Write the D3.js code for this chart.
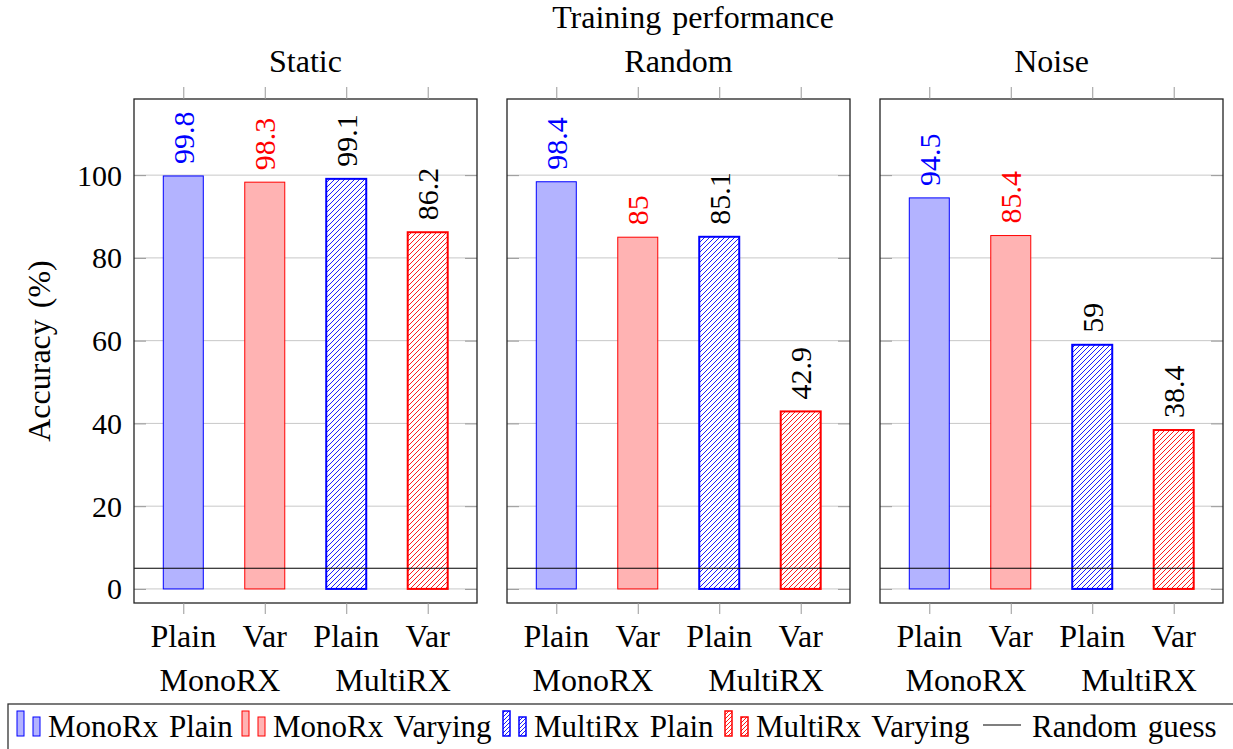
<!DOCTYPE html>
<html><head><meta charset="utf-8">
<script src="https://cdn.jsdelivr.net/npm/d3@7"></script>
<style>
body{margin:0;background:#fff;}
text{font-family:"Liberation Serif","Times New Roman",serif;}
</style></head>
<body><svg id="c" width="1233" height="749"></svg>
<script>
// ---- data ----
const panels = ["Static", "Random", "Noise"];
const categories = ["Plain", "Var", "Plain", "Var"];
const groups = ["MonoRX", "MultiRX"];
const series = ["MonoRx Plain", "MonoRx Varying", "MultiRx Plain", "MultiRx Varying"];
const staticValues = [99.8, 98.3, 99.1, 86.2];
const randomValues = [98.4, 85, 85.1, 42.9];
const noiseValues = [94.5, 85.4, 59, 38.4];
const randomGuess = 5;
const yTicks = [0, 20, 40, 60, 80, 100];
const title = "Training performance";
const yLabel = "Accuracy (%)";
const legendLineLabel = "Random guess";

const panelValues = [staticValues, randomValues, noiseValues];

// ---- styles / layout ----
const BLUE = "#0000ff", RED = "#ff0000";
const styles = [
  {fill: "#b3b3ff", stroke: BLUE, hatch: false, label: BLUE, sw: 1},
  {fill: "#ffb3b3", stroke: RED, hatch: false, label: RED, sw: 1},
  {fill: "url(#hatchBlue)", stroke: BLUE, hatch: true, label: "#000", sw: 2},
  {fill: "url(#hatchRed)", stroke: RED, hatch: true, label: "#000", sw: 2}
];
const FS = 30;   // numbers
const FW = 32;   // words
const FL = 31;   // legend words
const WS = 3;    // extra word spacing
const legendIconX = [17, 242, 503, 725];
const legendLineX = 983;

const svg = d3.select("#c");
const defs = svg.append("defs");
function hatch(id, color, size) {
  const p = defs.append("pattern").attr("id", id).attr("patternUnits", "userSpaceOnUse")
    .attr("width", size).attr("height", size);
  p.append("rect").attr("width", size).attr("height", size).attr("fill", "#fff");
  p.append("path").attr("d", `M0,${size} L${size},0 M${-size/2},${size/2} L${size/2},${-size/2} M${size/2},${size*1.5} L${size*1.5},${size/2}`)
    .attr("stroke", color).attr("stroke-width", 0.9);
}
hatch("hatchBlue", BLUE, 5);
hatch("hatchRed", RED, 5);
hatch("hatchBlueS", BLUE, 4);
hatch("hatchRedS", RED, 4);

const plotTop = 99, plotBottom = 603, pw = 343, gap = 30, left0 = 134;
const y = d3.scaleLinear().domain([-3.4, 118.4]).range([plotBottom, plotTop]);

panels.forEach((name, pi) => {
  const x0 = left0 + pi * (pw + gap);
  const g = svg.append("g").attr("transform", `translate(${x0},0)`);
  const x = d3.scalePoint().domain(d3.range(categories.length)).range([0, pw]).padding(0.605);
  const vals = panelValues[pi];

  // grid
  g.selectAll(".grid").data(yTicks).join("line")
    .attr("x1", 0).attr("x2", pw).attr("y1", d => y(d)).attr("y2", d => y(d))
    .attr("stroke", "#c8c8c8").attr("stroke-width", 1);
  // y ticks inside left and right
  const yAxL = d3.axisRight(y).tickValues(yTicks).tickSize(12).tickFormat("");
  const yAxR = d3.axisLeft(y).tickValues(yTicks).tickSize(12).tickFormat("");
  const gl = g.append("g").call(yAxL); gl.select(".domain").remove();
  gl.selectAll("line").attr("stroke", "#999");
  const gr = g.append("g").attr("transform", `translate(${pw},0)`).call(yAxR); gr.select(".domain").remove();
  gr.selectAll("line").attr("stroke", "#999");

  // bars
  const bw = 40;
  g.selectAll(".bar").data(vals).join("rect")
    .attr("x", (d, i) => x(i) - bw / 2).attr("width", bw)
    .attr("y", d => y(d)).attr("height", d => y(0) - y(d))
    .attr("fill", (d, i) => styles[i].fill).attr("stroke", (d, i) => styles[i].stroke)
    .attr("stroke-width", (d, i) => styles[i].sw);

  // value labels
  g.selectAll(".vl").data(vals).join("text")
    .attr("transform", (d, i) => `translate(${x(i)},${y(d) - 12}) rotate(-90)`)
    .attr("dominant-baseline", "central").attr("text-anchor", "start")
    .attr("font-size", FS).attr("fill", (d, i) => styles[i].label)
    .text(d => d);

  // random guess
  g.append("line").attr("x1", 0).attr("x2", pw).attr("y1", y(randomGuess)).attr("y2", y(randomGuess))
    .attr("stroke", "#000").attr("stroke-width", 1.2);

  // frame
  g.append("rect").attr("x", 0).attr("y", plotTop).attr("width", pw).attr("height", plotBottom - plotTop)
    .attr("fill", "none").attr("stroke", "#222").attr("stroke-width", 1.3);

  // x ticks outside top and bottom
  const xb = d3.axisBottom(x).tickSize(11).tickFormat("");
  const gxb = g.append("g").attr("transform", `translate(0,${plotBottom})`).call(xb);
  gxb.select(".domain").remove(); gxb.selectAll("line").attr("stroke", "#999");
  const xt = d3.axisTop(x).tickSize(12).tickFormat("");
  const gxt = g.append("g").attr("transform", `translate(0,${plotTop})`).call(xt);
  gxt.select(".domain").remove(); gxt.selectAll("line").attr("stroke", "#999");

  // category labels
  g.selectAll(".cl").data(categories).join("text")
    .attr("x", (d, i) => x(i)).attr("y", 647).attr("text-anchor", "middle")
    .attr("font-size", FW).text(d => d);
  g.selectAll(".gl").data(groups).join("text")
    .attr("x", (d, i) => (x(2 * i) + x(2 * i + 1)) / 2 + (i === 0 ? -4 : 6)).attr("y", 691)
    .attr("text-anchor", "middle").attr("font-size", FW).text(d => d);

  // panel title
  g.append("text").attr("x", pw / 2).attr("y", 72).attr("text-anchor", "middle")
    .attr("font-size", FW).text(name);

  if (pi === 0) {
    g.selectAll(".yl").data(yTicks).join("text")
      .attr("x", -12).attr("y", d => y(d)).attr("text-anchor", "end")
      .attr("dominant-baseline", "central").attr("font-size", FS).text(d => d);
  }
});

svg.append("text").attr("x", 693).attr("y", 28).attr("text-anchor", "middle")
  .attr("font-size", FW).attr("word-spacing", WS).text(title);
svg.append("text").attr("transform", `translate(50,${(plotTop + plotBottom) / 2}) rotate(-90)`)
  .attr("text-anchor", "middle").attr("font-size", FW).attr("word-spacing", WS).text(yLabel);

// legend
svg.append("rect").attr("x", 8).attr("y", 704).attr("width", 1240).attr("height", 60)
  .attr("fill", "#fff").attr("stroke", "#333").attr("stroke-width", 1.3);
const smallFills = ["#b3b3ff", "#ffb3b3", "url(#hatchBlueS)", "url(#hatchRedS)"];
series.forEach((s, i) => {
  const st = styles[i];
  const lx = legendIconX[i];
  const lg = svg.append("g");
  lg.append("rect").attr("x", lx).attr("y", 711).attr("width", 7).attr("height", 25)
    .attr("fill", smallFills[i]).attr("stroke", st.stroke).attr("stroke-width", st.hatch ? 1.5 : 1);
  lg.append("rect").attr("x", lx + 16).attr("y", 717).attr("width", 7).attr("height", 19)
    .attr("fill", smallFills[i]).attr("stroke", st.stroke).attr("stroke-width", st.hatch ? 1.5 : 1);
  lg.append("text").attr("x", lx + 31).attr("y", 737).attr("font-size", FL)
    .attr("word-spacing", WS).text(s);
});
svg.append("line").attr("x1", legendLineX).attr("x2", legendLineX + 38).attr("y1", 725).attr("y2", 725)
  .attr("stroke", "#000").attr("stroke-width", 1.2);
svg.append("text").attr("x", legendLineX + 49).attr("y", 737).attr("font-size", FL)
  .attr("word-spacing", WS).text(legendLineLabel);
</script></body></html>
